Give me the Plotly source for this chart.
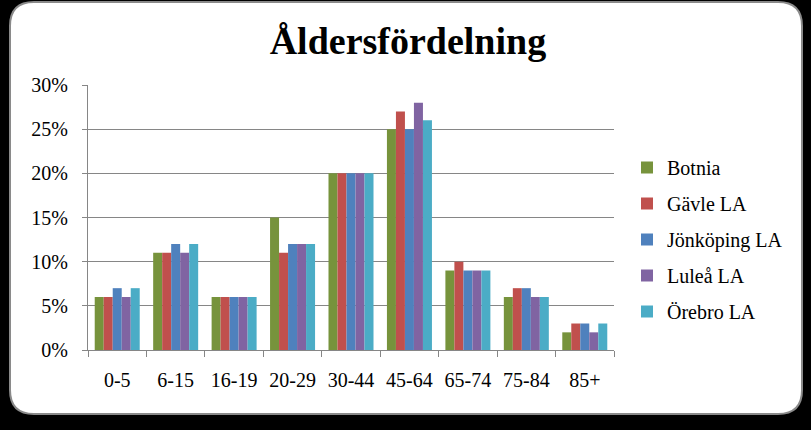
import plotly.graph_objects as go

categories = ["0-5", "6-15", "16-19", "20-29", "30-44", "45-64", "65-74", "75-84", "85+"]
series_names = ["Botnia", "Gävle LA", "Jönköping LA", "Luleå LA", "Örebro LA"]
botnia = [0.06, 0.11, 0.06, 0.15, 0.20, 0.25, 0.09, 0.06, 0.02]
gavle = [0.06, 0.11, 0.06, 0.11, 0.20, 0.27, 0.10, 0.07, 0.03]
jonkoping = [0.07, 0.12, 0.06, 0.12, 0.20, 0.25, 0.09, 0.07, 0.03]
lulea = [0.06, 0.11, 0.06, 0.12, 0.20, 0.28, 0.09, 0.06, 0.02]
orebro = [0.07, 0.12, 0.06, 0.12, 0.20, 0.26, 0.09, 0.06, 0.03]
colors = ["#77933C", "#C0504D", "#4F81BD", "#8064A2", "#4BACC6"]
y_ticks = [0, 0.05, 0.10, 0.15, 0.20, 0.25, 0.30]
y_tick_labels = ["0%", "5%", "10%", "15%", "20%", "25%", "30%"]

W, H = 811, 430
L, R, T, B = 88, 614, 85, 350

fig = go.Figure()
for name, vals, col in zip(series_names, [botnia, gavle, jonkoping, lulea, orebro], colors):
    fig.add_trace(go.Bar(x=categories, y=vals, name=name, marker_color=col,
                         marker_line_width=0, legendgroup=name))

def px(x):
    return (x - L) / (R - L)

def py(y):
    return (B - y) / (B - T)

x0, x1, y0, y1, r = 10, 802, 2, 414, 24
path = (f"M {px(x0+r)},{py(y0)} L {px(x1-r)},{py(y0)} Q {px(x1)},{py(y0)} {px(x1)},{py(y0+r)} "
        f"L {px(x1)},{py(y1-r)} Q {px(x1)},{py(y1)} {px(x1-r)},{py(y1)} "
        f"L {px(x0+r)},{py(y1)} Q {px(x0)},{py(y1)} {px(x0)},{py(y1-r)} "
        f"L {px(x0)},{py(y0+r)} Q {px(x0)},{py(y0)} {px(x0+r)},{py(y0)} Z")

fig.update_layout(
    width=W, height=H,
    margin=dict(l=L, r=W - R, t=T, b=H - B),
    paper_bgcolor="black",
    plot_bgcolor="rgba(0,0,0,0)",
    barmode="group", bargap=0.23, bargroupgap=0,
    font=dict(family="Liberation Serif", size=20, color="black"),
    title=dict(text="<b>Åldersfördelning</b>", x=0.503, xref="container", xanchor="center",
               y=1 - 41 / H, yanchor="middle", yref="container",
               font=dict(family="Liberation Serif", size=38, color="black")),
    shapes=[dict(type="path", path=path, xref="paper", yref="paper", layer="below",
                 fillcolor="white", line=dict(color="#8a8a8a", width=2))],
    legend=dict(x=(627 - L) / (R - L), xanchor="left", y=py(148), yanchor="top",
                traceorder="grouped", tracegroupgap=7, itemwidth=30,
                bgcolor="rgba(0,0,0,0)", font=dict(size=20, family="Liberation Serif")),
    xaxis=dict(showline=True, linecolor="#868686", linewidth=1, ticks="outside",
               tickson="boundaries", ticklen=6, tickcolor="#868686", tickwidth=1,
               showgrid=False, tickfont=dict(size=20), ticklabelstandoff=12),
    yaxis=dict(range=[0, 0.30], tickvals=y_ticks, ticktext=y_tick_labels,
               showline=True, linecolor="#868686", linewidth=1, ticks="outside",
               ticklen=5, tickcolor="#868686", tickwidth=1,
               showgrid=True, gridcolor="#868686", gridwidth=1, zeroline=False,
               tickfont=dict(size=20), ticklabelstandoff=10),
)

fig.write_html("out.html")
